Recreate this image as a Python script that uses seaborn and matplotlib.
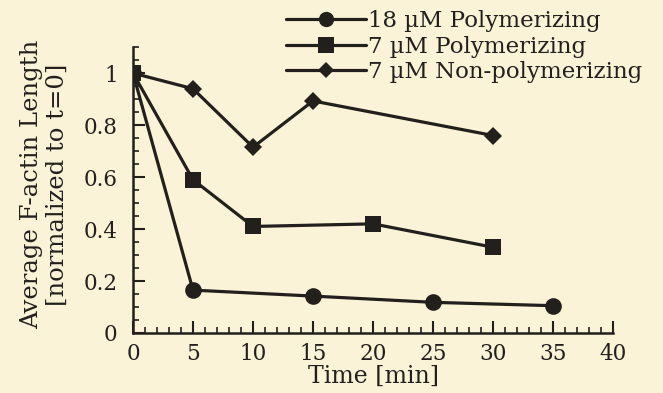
import pandas as pd
import seaborn as sns
import matplotlib.pyplot as plt
from matplotlib.ticker import MultipleLocator

# Data
t_18 = [0, 5, 15, 25, 35]
len_18 = [1.0, 0.165, 0.142, 0.118, 0.105]
t_7p = [0, 5, 10, 20, 30]
len_7p = [1.0, 0.59, 0.41, 0.42, 0.33]
t_7n = [0, 5, 10, 15, 30]
len_7n = [1.0, 0.94, 0.715, 0.893, 0.76]
labels = ["18 \u00b5M Polymerizing", "7 \u00b5M Polymerizing", "7 \u00b5M Non-polymerizing"]

df = pd.concat([
    pd.DataFrame({"Time": t_18, "Length": len_18, "Series": labels[0]}),
    pd.DataFrame({"Time": t_7p, "Length": len_7p, "Series": labels[1]}),
    pd.DataFrame({"Time": t_7n, "Length": len_7n, "Series": labels[2]}),
])

bg = "#fbf3d8"
ink = "#231f1c"
sns.set_style("ticks")
plt.rcParams['font.family'] = ['DejaVu Serif']

fig = plt.figure(figsize=(6.63, 3.93), dpi=100, facecolor=bg)
ax = fig.add_axes([0.2006, 0.1527, 0.724, 0.7273])
ax.set_facecolor(bg)

markers = {labels[0]: "o", labels[1]: "s", labels[2]: "D"}
sizes = {labels[0]: 12, labels[1]: 12, labels[2]: 8.7}
for lab in labels:
    sns.lineplot(data=df[df["Series"] == lab], x="Time", y="Length", ax=ax,
                 color=ink, linewidth=2.3, marker=markers[lab],
                 markersize=sizes[lab], markeredgewidth=0, label=lab,
                 legend=False)

ax.set_xlim(0, 40)
ax.set_ylim(0, 1.1)
ax.set_yticks([0, 0.2, 0.4, 0.6, 0.8, 1])
ax.set_yticklabels(["0", "0.2", "0.4", "0.6", "0.8", "1"])
ax.xaxis.set_major_locator(MultipleLocator(5))
ax.xaxis.set_minor_locator(MultipleLocator(1))
ax.yaxis.set_minor_locator(MultipleLocator(0.05))
ax.tick_params(which="major", direction="in", length=8.5, width=1.5, colors=ink,
               labelsize=15.5)
ax.tick_params(axis="x", which="major", pad=7)
ax.tick_params(axis="y", which="major", pad=11)
ax.tick_params(which="minor", direction="in", length=4.5, width=1.2, colors=ink)
for s in ["top", "right"]:
    ax.spines[s].set_visible(False)
for s in ["left", "bottom"]:
    ax.spines[s].set_linewidth(1.8)
    ax.spines[s].set_color(ink)

ax.set_xlabel("Time [min]", fontsize=17, color=ink)
ax.set_ylabel("Average F-actin Length\n[normalized to t=0]", fontsize=17.5,
              color=ink, linespacing=1.15)
ax.xaxis.set_label_coords(0.5, -0.11)
ax.yaxis.set_label_coords(-0.133, 0.52)
for lbl in ax.get_xticklabels() + ax.get_yticklabels():
    lbl.set_color(ink)

handles, _ = ax.get_legend_handles_labels()
leg = fig.legend(handles, labels, loc="upper left", bbox_to_anchor=(0.4175, 0.997),
                 frameon=False, fontsize=16.5, handlelength=3.5, handletextpad=0.1,
                 labelspacing=0.15, borderaxespad=0)
for txt in leg.get_texts():
    txt.set_color(ink)
for h, ms in zip(leg.legend_handles, [11, 11, 8]):
    h.set_markersize(ms)

fig.savefig("out.png", dpi=100, facecolor=bg)
